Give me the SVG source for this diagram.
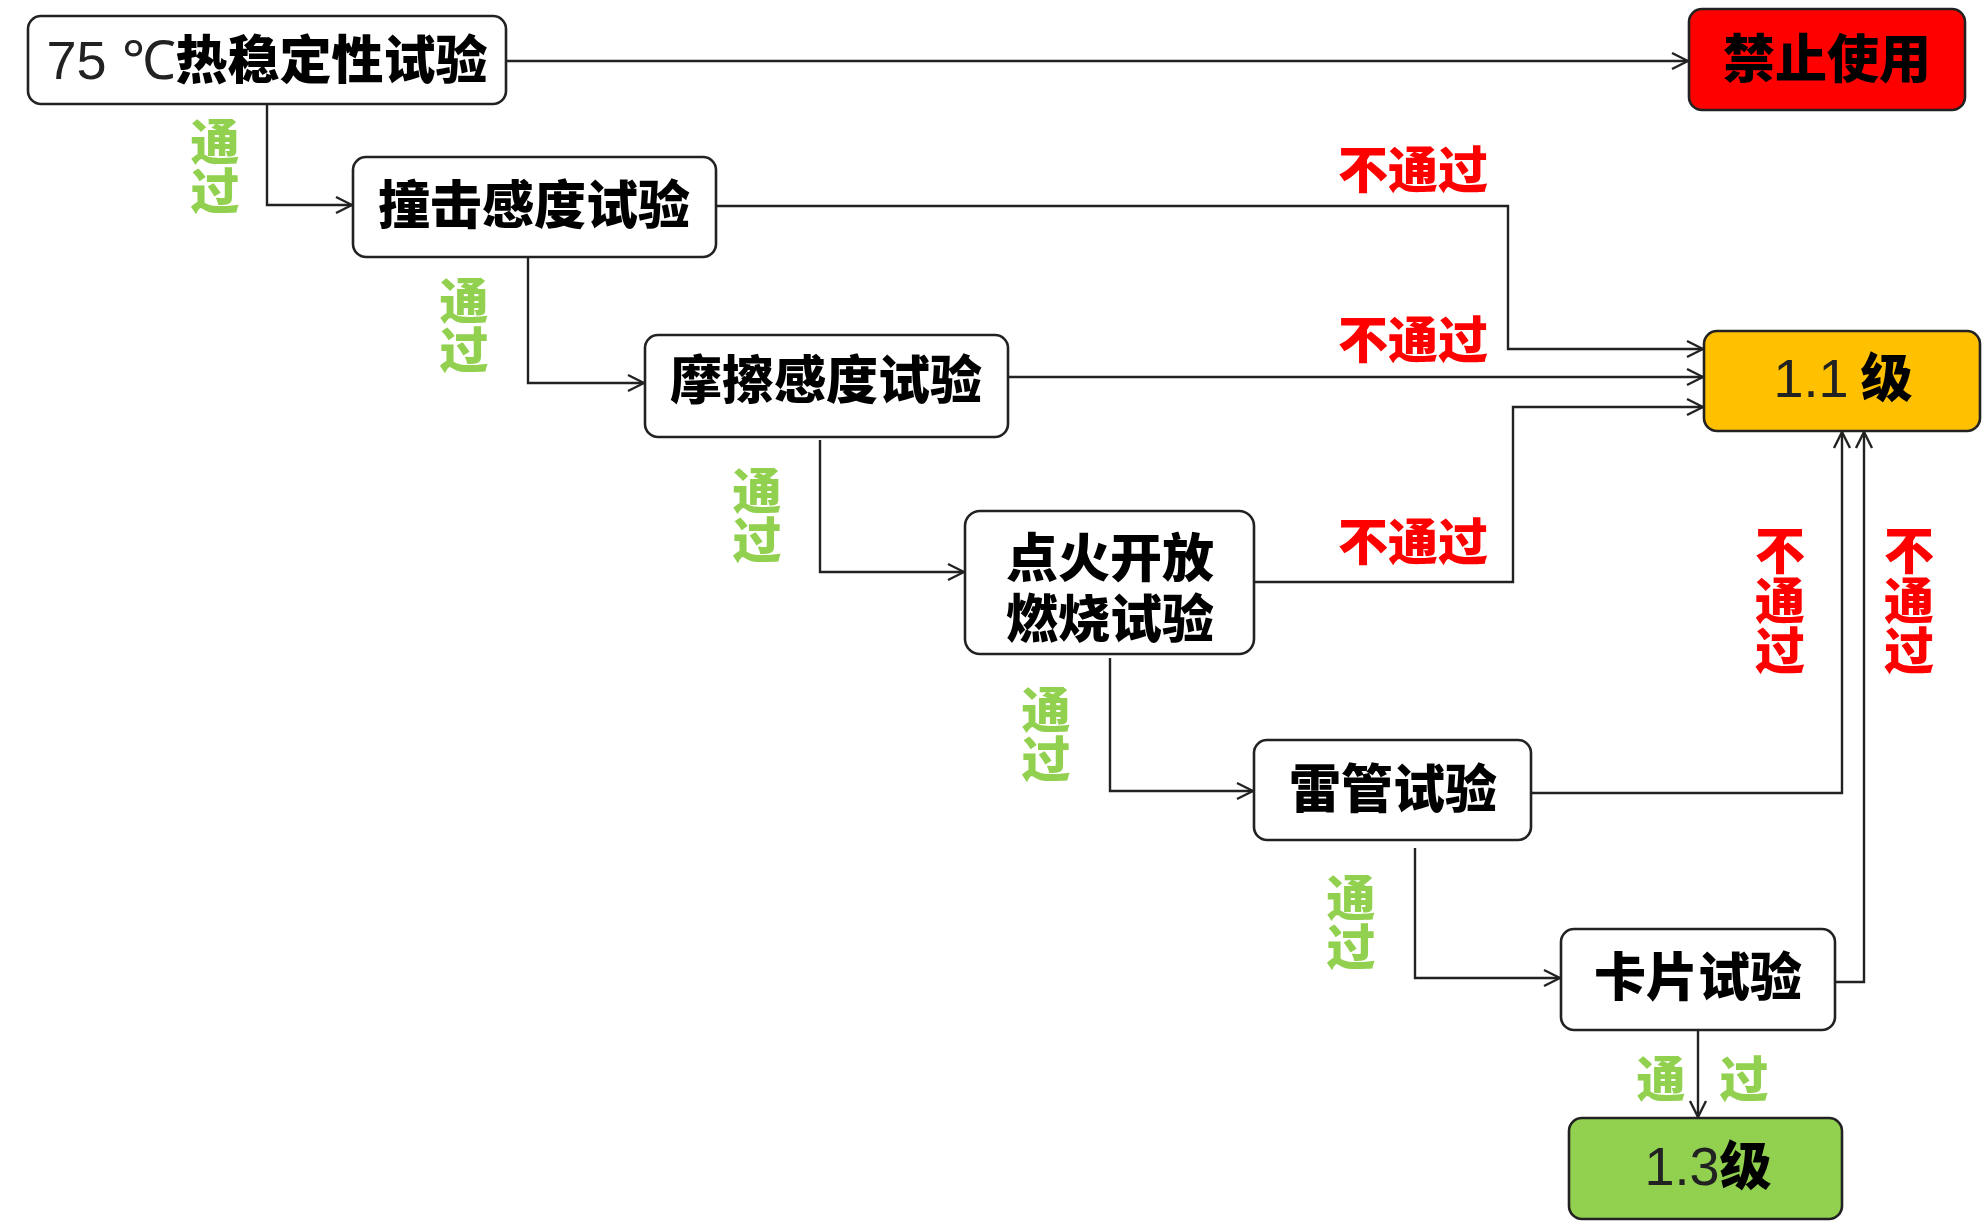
<svg xmlns="http://www.w3.org/2000/svg" width="1984" height="1228" viewBox="0 0 1984 1228">
<defs>
<marker id="arr" viewBox="0 0 20 20" refX="18" refY="10" markerWidth="20" markerHeight="20" markerUnits="userSpaceOnUse" orient="auto">
<path d="M2,2 L18,10 L2,18" fill="none" stroke="#222" stroke-width="2.4"/>
</marker>
<style>
.box{fill:#fff;stroke:#222;stroke-width:2.6}
.cn{font-family:"Noto Sans CJK SC","Noto Sans",sans-serif;font-weight:900;font-size:52px;fill:#000;text-anchor:middle}
.lat{font-family:"Liberation Sans",Arial,sans-serif;font-weight:400;fill:#222}
.ok{font-family:"Noto Sans CJK SC",sans-serif;font-weight:900;font-size:49px;fill:#92D050;text-anchor:middle;dominant-baseline:central}
.no{font-family:"Noto Sans CJK SC",sans-serif;font-weight:900;font-size:50px;fill:#FF0000;text-anchor:middle;dominant-baseline:central}
.v{writing-mode:vertical-rl;text-anchor:start;dominant-baseline:auto}
.ln{fill:none;stroke:#222;stroke-width:2.4}
</style>
</defs>
<rect width="1984" height="1228" fill="#fff"/>

<g id="nodeA">
<rect class="box" x="28" y="16" width="478" height="88" rx="13"/>
<text class="cn" x="267" y="79"><tspan class="lat" font-size="54">75 ℃</tspan>热稳定性试验</text>
</g>
<g id="nodeBan">
<rect class="box" x="1689" y="9" width="276" height="101" rx="13" style="fill:#FF0000"/>
<text class="cn" x="1827" y="78">禁止使用</text>
</g>
<g id="nodeB">
<rect class="box" x="353" y="157" width="363" height="100" rx="13"/>
<text class="cn" x="534" y="224">撞击感度试验</text>
</g>
<g id="nodeC">
<rect class="box" x="645" y="335" width="363" height="102" rx="13"/>
<text class="cn" x="826" y="399">摩擦感度试验</text>
</g>
<g id="node11">
<rect class="box" x="1704" y="331" width="276" height="100" rx="13" style="fill:#FFC000"/>
<text class="cn" x="1843" y="397"><tspan class="lat" font-size="54">1.1</tspan><tspan dx="12">级</tspan></text>
</g>
<g id="nodeD">
<rect class="box" x="965" y="511" width="289" height="143" rx="15"/>
<text class="cn" x="1110" y="577">点火开放</text>
<text class="cn" x="1110" y="638">燃烧试验</text>
</g>
<g id="nodeE">
<rect class="box" x="1254" y="740" width="277" height="100" rx="13"/>
<text class="cn" x="1393" y="808">雷管试验</text>
</g>
<g id="nodeF">
<rect class="box" x="1561" y="929" width="274" height="101" rx="13"/>
<text class="cn" x="1698" y="996">卡片试验</text>
</g>
<g id="node13">
<rect class="box" x="1569" y="1118" width="273" height="101" rx="13" style="fill:#92D050"/>
<text class="cn" x="1708" y="1185"><tspan class="lat" font-size="54">1.3</tspan>级</text>
</g>

<g id="connectors">
<path class="ln" marker-end="url(#arr)" d="M506,61 H1688"/>
<path class="ln" marker-end="url(#arr)" d="M267,104 V205 H352"/>
<path class="ln" marker-end="url(#arr)" d="M716,206 H1508 V349 H1703"/>
<path class="ln" marker-end="url(#arr)" d="M1008,377 H1703"/>
<path class="ln" marker-end="url(#arr)" d="M1254,582 H1513 V407 H1703"/>
<path class="ln" marker-end="url(#arr)" d="M528,257 V383 H644"/>
<path class="ln" marker-end="url(#arr)" d="M820,440 V572 H964"/>
<path class="ln" marker-end="url(#arr)" d="M1110,658 V791 H1253"/>
<path class="ln" marker-end="url(#arr)" d="M1531,793 H1842 V432"/>
<path class="ln" marker-end="url(#arr)" d="M1835,982 H1864 V432"/>
<path class="ln" marker-end="url(#arr)" d="M1415,848 V978 H1560"/>
<path class="ln" marker-end="url(#arr)" d="M1698,1030 V1117"/>
</g>

<g id="labels">
<text class="ok v" x="215" y="117">通过</text>
<text class="ok v" x="464" y="276">通过</text>
<text class="ok v" x="757" y="466">通过</text>
<text class="ok v" x="1046" y="685">通过</text>
<text class="ok v" x="1351" y="873">通过</text>
<text class="ok" x="1661" y="1075">通</text><text class="ok" x="1744" y="1075">过</text>
<text class="no" x="1413" y="166">不通过</text>
<text class="no" x="1413" y="336">不通过</text>
<text class="no" x="1413" y="538">不通过</text>
<text class="no v" x="1780" y="525">不通过</text>
<text class="no v" x="1909" y="525">不通过</text>
</g>
</svg>
